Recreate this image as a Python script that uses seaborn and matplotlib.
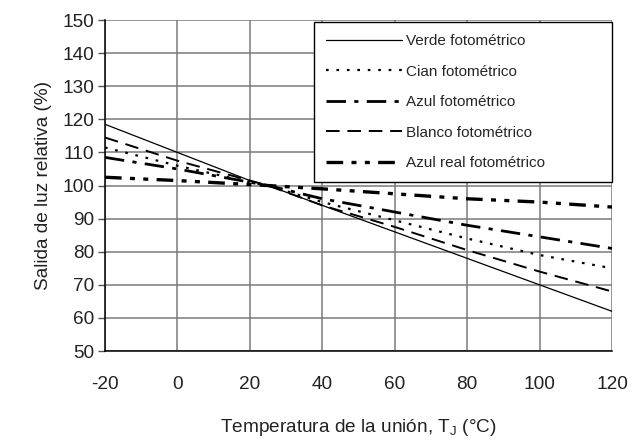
import matplotlib
matplotlib.use("Agg")
import matplotlib.pyplot as plt
import seaborn as sns
import pandas as pd

# Data
temperature = [-20, 0, 20, 25, 40, 60, 80, 100, 120]
verde = [118.5, 110.0, 101.5, 100.0, 94.0, 86.0, 78.0, 70.0, 62.0]
cian = [111.5, 106.0, 101.0, 100.0, 95.0, 89.5, 84.0, 79.0, 75.0]
azul = [108.5, 105.0, 101.0, 100.0, 96.0, 92.0, 88.0, 84.5, 81.0]
blanco = [114.5, 107.5, 101.5, 100.0, 94.0, 87.5, 80.5, 74.0, 68.0]
azul_real = [102.5, 101.5, 100.3, 100.0, 99.0, 97.5, 96.0, 95.0, 93.5]

series_names = ["Verde fotométrico", "Cian fotométrico", "Azul fotométrico",
                "Blanco fotométrico", "Azul real fotométrico"]
series_values = [verde, cian, azul, blanco, azul_real]

styles = [
    dict(linestyle="-", lw=0.9),
    dict(linestyle=(0, (1.2, 3.5)), lw=1.6),
    dict(linestyle=(0, (7, 3, 1.5, 3)), lw=2.0),
    dict(linestyle=(0, (7, 4)), lw=1.4),
    dict(linestyle=(0, (5, 2.5, 1.5, 2.5, 1.5, 2.5)), lw=2.4),
]

df = pd.DataFrame({"T": temperature})
for name, vals in zip(series_names, series_values):
    df[name] = vals

sns.set_style("white")
plt.rcParams["font.family"] = ["Liberation Sans", "DejaVu Sans"]
plt.rcParams["axes.unicode_minus"] = False

fig = plt.figure(figsize=(6.34, 4.41), dpi=100)
ax = fig.add_axes([0.1656, 0.204, 0.7997, 0.7506])

for name, st in zip(series_names, styles):
    sns.lineplot(data=df, x="T", y=name, ax=ax, color="black", label=name, **st)

ax.set_xlim(-20, 120)
ax.set_ylim(50, 150)
ax.set_xticks(range(-20, 121, 20))
ax.set_yticks(range(50, 151, 10))
ax.grid(True, color="#7a7a7a", lw=1.1)
ax.set_axisbelow(True)
for side in ["top", "right"]:
    ax.spines[side].set_visible(False)
for side in ["left", "bottom"]:
    ax.spines[side].set_color("black")
    ax.spines[side].set_linewidth(1.1)

ax.tick_params(axis="y", direction="out", length=5, width=1, color="#555555",
               labelsize=13.7, pad=3, left=True)
ax.tick_params(axis="x", length=0, labelsize=13.7, pad=18)
for lab in ax.get_yticklabels() + ax.get_xticklabels():
    lab.set_color("#222222")

ax.set_xlabel("Temperatura de la unión, T$_\\mathregular{J}$ (°C)", fontsize=13.7,
              labelpad=17, color="#222222")
ax.set_ylabel("Salida de luz relativa (%)", fontsize=13.7, labelpad=7, color="#222222")

leg = ax.legend(loc="upper right", bbox_to_anchor=(0.412, 0.508, 0.588, 0.486),
                mode="expand", borderaxespad=0, fontsize=11, handlelength=5.0,
                handletextpad=0.25, labelspacing=1.08, frameon=True, fancybox=False,
                framealpha=1, borderpad=0.8)
leg.get_frame().set_edgecolor("black")
leg.get_frame().set_linewidth(1.0)
leg.set_zorder(5)

fig.savefig("out.png", dpi=100)
